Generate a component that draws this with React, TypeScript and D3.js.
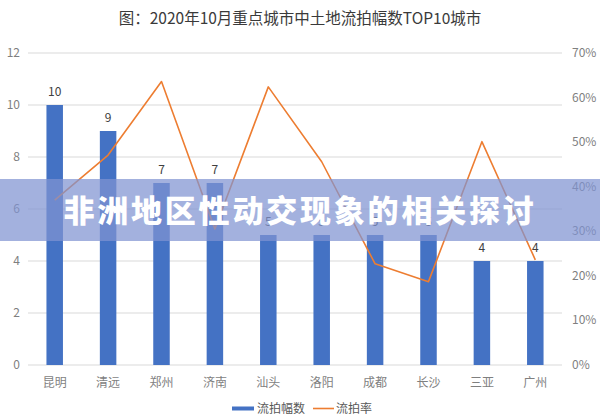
import React from "react";
import * as d3 from "d3";

const categories = ["昆明", "清远", "郑州", "济南", "汕头", "洛阳", "成都", "长沙", "三亚", "广州"];
const counts = [10, 9, 7, 7, 5, 5, 5, 5, 4, 4];
const rates = [37.0, 47.1, 63.6, 30.5, 62.4, 45.6, 22.7, 18.7, 50.1, 23.6];
const leftTicks = [0, 2, 4, 6, 8, 10, 12];
const rightTicks = [0, 10, 20, 30, 40, 50, 60, 70];
const title = "图：2020年10月重点城市中土地流拍幅数TOP10城市";
const banner = "非洲地区性动交现象的相关探讨";
const legendBar = "流拍幅数";
const legendLine = "流拍率";

const W = 600, H = 420;
const plot = { left: 28, right: 562, top: 53, bottom: 365 };
const FONT = "'Noto Sans CJK SC', 'Noto Sans', sans-serif";

export default function App() {
  const x = d3.scaleBand<string>().domain(categories).range([plot.left, plot.right]).paddingInner(0).paddingOuter(0);
  const yL = d3.scaleLinear().domain([0, 12]).range([plot.bottom, plot.top]);
  const yR = d3.scaleLinear().domain([0, 70]).range([plot.bottom, plot.top]);
  const barW = 16.5;
  const cx = (c: string) => (x(c) as number) + x.bandwidth() / 2;
  const line = d3.line<number>().x((_, i) => cx(categories[i])).y((d) => yR(d));

  return (
    <div style={{ position: "absolute", left: 0, top: 0 }}>
      <svg width={W} height={H} style={{ display: "block", fontFamily: FONT }}>
        <rect x={0} y={0} width={W} height={H} fill="#ffffff" />
        <text x={300} y={24} textAnchor="middle" fontSize={15.5} fill="#3a3a3a">{title}</text>
        {leftTicks.map((t) => (
          <g key={"g" + t}>
            <line x1={plot.left} x2={plot.right} y1={yL(t)} y2={yL(t)} stroke="#d9d9d9" strokeWidth={1} />
            <text x={20} y={yL(t) + 4} textAnchor="end" fontSize={12} fill="#7f7f7f">{t}</text>
          </g>
        ))}
        {rightTicks.map((t) => (
          <text key={"r" + t} x={572} y={yR(t) + 4} textAnchor="start" fontSize={12} fill="#7f7f7f">{t}%</text>
        ))}
        {categories.map((c, i) => (
          <g key={c}>
            <rect x={cx(c) - barW / 2} y={yL(counts[i])} width={barW} height={plot.bottom - yL(counts[i])} fill="#4472c4" />
            <text x={cx(c)} y={yL(counts[i]) - 9} textAnchor="middle" fontSize={12} fill="#404040">{counts[i]}</text>
            <text x={cx(c)} y={387} textAnchor="middle" fontSize={12} fill="#7f7f7f">{c}</text>
          </g>
        ))}
        <path d={line(rates) || ""} fill="none" stroke="#ed7d31" strokeWidth={1.6} strokeLinejoin="round" />
        <rect x={232} y={406.5} width={22} height={4} fill="#4472c4" />
        <text x={257} y={413} fontSize={12} fill="#595959">{legendBar}</text>
        <line x1={313} x2={334} y1={408.5} y2={408.5} stroke="#ed7d31" strokeWidth={1.6} />
        <text x={336} y={413} fontSize={12} fill="#595959">{legendLine}</text>
        <rect x={0} y={179} width={W} height={62} fill="rgb(127,147,209)" fillOpacity={0.72} />
        <text x={300} y={222} textAnchor="middle" fontSize={31} fontWeight={900} letterSpacing={2.8} fill="#ffffff">{banner}</text>
      </svg>
    </div>
  );
}
